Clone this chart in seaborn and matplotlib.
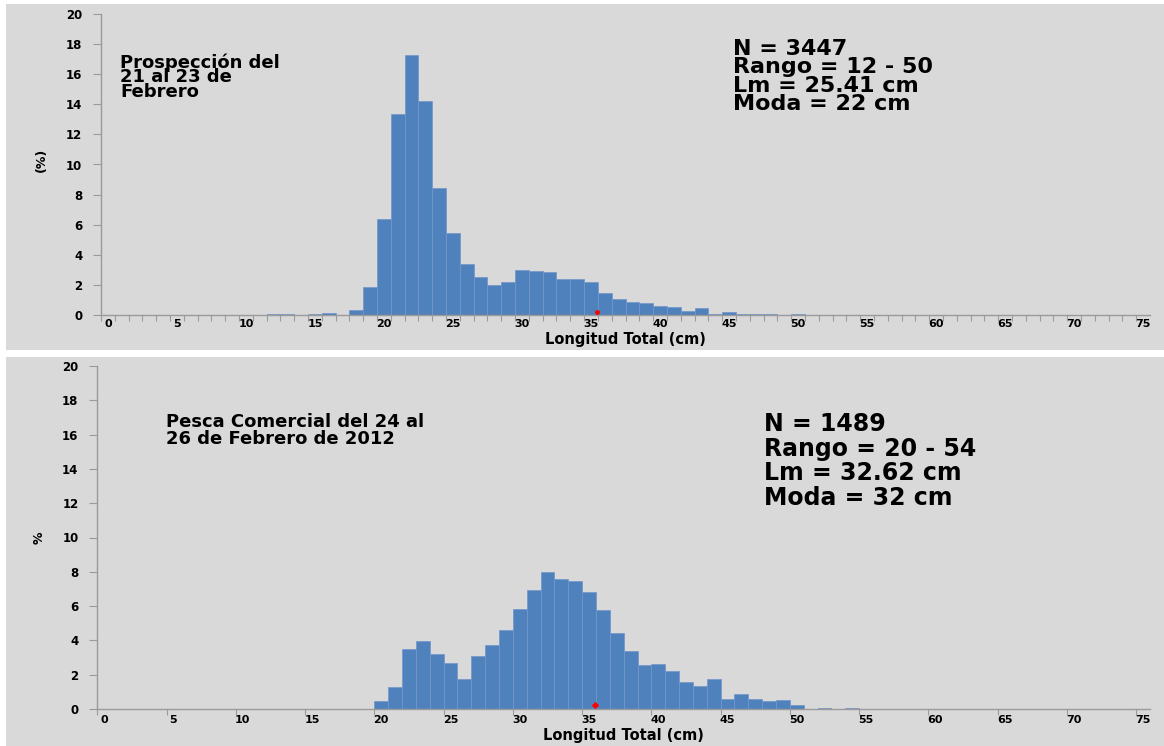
import matplotlib
matplotlib.use("Agg")
import matplotlib.pyplot as plt
from matplotlib.patches import Rectangle
import seaborn as sns
import pandas as pd

# ---- data ----
top_lengths = list(range(12, 51))
top_pct = [0.09, 0.09, 0.0, 0.09, 0.13, 0.0, 0.31, 1.83, 6.37, 13.37,
           17.26, 14.21, 8.42, 5.48, 3.38, 2.50, 1.99, 2.21, 2.98, 2.94,
           2.85, 2.41, 2.41, 2.17, 1.44, 1.04, 0.88, 0.80, 0.62, 0.53,
           0.29, 0.44, 0.06, 0.18, 0.06, 0.06, 0.06, 0.0, 0.06]

bot_lengths = list(range(20, 55))
bot_pct = [0.47, 1.28, 3.50, 3.97, 3.21, 2.68, 1.75, 3.09, 3.75, 4.63,
           5.83, 6.92, 7.99, 7.58, 7.44, 6.84, 5.77, 4.43, 3.36, 2.55,
           2.62, 2.22, 1.55, 1.36, 1.75, 0.60, 0.87, 0.60, 0.47, 0.54,
           0.21, 0.0, 0.06, 0.0, 0.06]

categories = list(range(0, 76))
tick_labels = [str(v) for v in range(0, 76, 5)]
y_ticks = list(range(0, 21, 2))

top_title = "Prospección del\n21 al 23 de\nFebrero"
top_stats = "N = 3447\nRango = 12 - 50\nLm = 25.41 cm\nModa = 22 cm"
bot_title = "Pesca Comercial del 24 al\n26 de Febrero de 2012"
bot_stats = "N = 1489\nRango = 20 - 54\nLm = 32.62 cm\nModa = 32 cm"
marker_x = [35.4, 35.45]
marker_y = [0.22, 0.21]

# ---- style ----
sns.set_theme(style="white")
plt.rcParams["font.family"] = ["DejaVu Sans"]
plt.rcParams["font.weight"] = "bold"
plt.rcParams["text.color"] = "black"
plt.rcParams["axes.labelcolor"] = "black"
plt.rcParams["xtick.color"] = "black"
plt.rcParams["ytick.color"] = "black"

W, H = 1164, 746
fig = plt.figure(figsize=(W / 100, H / 100), dpi=100, facecolor="white")

GRAY = "#d9d9d9"
BAR = "#4f81bd"
EDGE = "#7196cc"
AX = "#9a9a9a"

# panel backgrounds
fig.patches.append(Rectangle((6 / W, 1 - 350 / H), 1 - 6 / W, 346 / H,
                             transform=fig.transFigure, facecolor=GRAY,
                             edgecolor="none", zorder=-5))
fig.patches.append(Rectangle((6 / W, 0), 1 - 6 / W, 389 / H,
                             transform=fig.transFigure, facecolor=GRAY,
                             edgecolor="none", zorder=-5))

def px_axes(left, right, top, bottom):
    return [left / W, 1 - bottom / H, (right - left) / W, (bottom - top) / H]

ax1 = fig.add_axes(px_axes(101, 1150, 14, 315), zorder=2)
ax2 = fig.add_axes(px_axes(97.3, 1150, 366, 709), zorder=2)

def draw(ax, lengths, pct, minor_step, ylabel, ylab_xy, xlab_y, xpad):
    full = dict(zip(lengths, pct))
    df = pd.DataFrame({"len": categories,
                       "pct": [full.get(c, 0.0) for c in categories]})
    sns.barplot(data=df, x="len", y="pct", order=categories, width=1.0,
                color=BAR, saturation=1, edgecolor=EDGE, linewidth=0.5,
                ax=ax)
    ax.set_facecolor(GRAY)
    ax.patch.set_alpha(0)
    ax.set_xlim(-0.5, 75.5)
    ax.set_ylim(0, 20)
    ax.set_xticks(list(range(0, 76, 5)))
    ax.set_xticklabels(tick_labels)
    ax.set_xticks([c - 0.5 for c in range(0, 76, minor_step)], minor=True)
    ax.tick_params(axis="x", which="major", length=0, pad=xpad,
                   labelsize=8, labelcolor="black")
    ax.tick_params(axis="x", which="minor", length=4, width=0.8,
                   color=AX, direction="out", bottom=True)
    ax.set_yticks(y_ticks)
    ax.tick_params(axis="y", which="major", length=5.5, width=0.8, color=AX,
                   direction="out", left=True, pad=8, labelsize=8.5,
                   labelcolor="black")
    for s in ["top", "right"]:
        ax.spines[s].set_visible(False)
    for s in ["left", "bottom"]:
        ax.spines[s].set_color(AX)
        ax.spines[s].set_linewidth(1.0)
    ax.set_xlabel("Longitud Total (cm)", fontsize=10.5, fontweight="bold",
                  color="black")
    ax.xaxis.set_label_coords(0.5, xlab_y)
    ax.set_ylabel(ylabel, fontsize=9, fontweight="bold", color="black")
    ax.yaxis.set_label_coords(*ylab_xy)

draw(ax1, top_lengths, top_pct, 1, "(%)", (-0.051, 0.515), -0.058, 3)
draw(ax2, bot_lengths, bot_pct, 5, "%", (-0.049, 0.4985), -0.056, 4)

ax1.plot([marker_x[0]], [marker_y[0]], marker="o", ms=2.5, color="red",
         ls="none", zorder=5)
ax2.plot([marker_x[1]], [marker_y[1]], marker="P", ms=3.5, color="red",
         ls="none", zorder=5)

# annotations
fig.text(120 / W, 1 - 53 / H, top_title, fontsize=13, fontweight="bold",
         ha="left", va="top", linespacing=0.78, color="black")
fig.text(733 / W, 1 - 39 / H, top_stats, fontsize=16, fontweight="bold",
         ha="left", va="top", linespacing=0.9, color="black")
fig.text(166 / W, 1 - 413 / H, bot_title, fontsize=13, fontweight="bold",
         ha="left", va="top", linespacing=0.95, color="black")
fig.text(764 / W, 1 - 412 / H, bot_stats, fontsize=17, fontweight="bold",
         ha="left", va="top", linespacing=1.03, color="black")

fig.savefig("out.png", dpi=100, facecolor="white")
